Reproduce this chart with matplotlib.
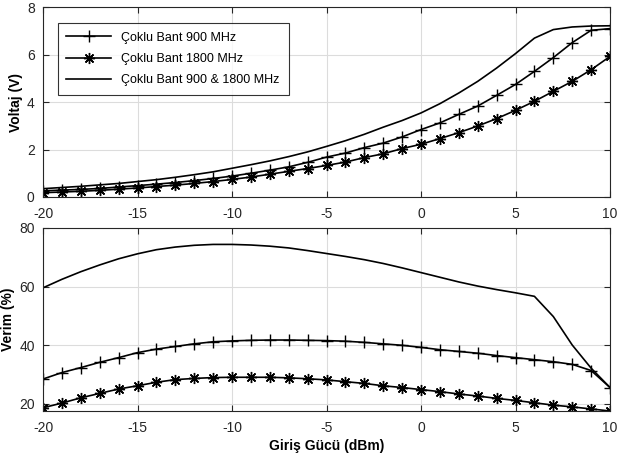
import matplotlib
matplotlib.use("Agg")
from matplotlib import pyplot as plt

plt.rcParams['font.family'] = ['Liberation Sans', 'DejaVu Sans']
plt.rcParams['axes.unicode_minus'] = False

# giriş gücü (dBm)
guc = list(range(-20, 11))

# voltaj (V)
v_900 = [0.26, 0.29, 0.32, 0.36, 0.42, 0.48, 0.54, 0.61, 0.69, 0.78, 0.88,
         1.00, 1.13, 1.27, 1.46, 1.68, 1.85, 2.08, 2.27, 2.53, 2.84,
         3.12, 3.48, 3.83, 4.28, 4.74, 5.29, 5.87, 6.50, 7.02, 7.09]
v_1800 = [0.18, 0.21, 0.24, 0.28, 0.33, 0.38, 0.44, 0.50, 0.57, 0.65, 0.74,
          0.84, 0.96, 1.08, 1.20, 1.33, 1.47, 1.66, 1.82, 2.04, 2.22,
          2.46, 2.71, 2.99, 3.30, 3.65, 4.03, 4.45, 4.87, 5.36, 5.92]
v_ikisi = [0.35, 0.40, 0.45, 0.51, 0.57, 0.65, 0.73, 0.83, 0.94, 1.06, 1.21,
           1.36, 1.52, 1.70, 1.90, 2.13, 2.37, 2.64, 2.94, 3.22, 3.54,
           3.93, 4.38, 4.87, 5.43, 6.04, 6.69, 7.05, 7.16, 7.20, 7.21]

# verim (%)
e_900 = [28.5, 30.7, 32.4, 34.2, 35.8, 37.5, 38.7, 39.6, 40.5, 41.2, 41.5,
         41.7, 41.8, 41.8, 41.7, 41.6, 41.4, 41.0, 40.5, 40.0, 39.3,
         38.5, 37.9, 37.3, 36.5, 35.8, 35.1, 34.4, 33.5, 31.4, 25.6]
e_1800 = [18.7, 20.3, 22.1, 23.6, 25.1, 26.2, 27.4, 28.3, 28.7, 29.0, 29.1,
          29.1, 29.1, 28.9, 28.6, 28.2, 27.6, 27.0, 26.2, 25.6, 24.9,
          24.2, 23.4, 22.7, 21.9, 21.2, 20.4, 19.6, 19.0, 18.3, 17.6]
e_ikisi = [59.6, 62.5, 65.1, 67.4, 69.5, 71.2, 72.6, 73.5, 74.1, 74.4, 74.4,
           74.2, 73.8, 73.2, 72.3, 71.3, 70.3, 69.2, 67.9, 66.4, 64.8,
           63.2, 61.6, 60.2, 59.0, 57.9, 56.7, 49.8, 40.1, 32.2, 25.6]

etiketler = ['Çoklu Bant 900 MHz', 'Çoklu Bant 1800 MHz', 'Çoklu Bant 900 & 1800 MHz']
asterisk = (8, 2, 0)

fig = plt.figure(figsize=(6.17, 4.62), dpi=100)
ax1 = fig.add_axes([0.0697, 0.5736, 0.919, 0.4112])
ax2 = fig.add_axes([0.0697, 0.1104, 0.919, 0.3961])

for ax, a, b, c in [(ax1, v_900, v_1800, v_ikisi), (ax2, e_900, e_1800, e_ikisi)]:
    ax.plot(guc, a, color='black', lw=1.2, marker='+', ms=9, mew=1.0, label=etiketler[0])
    ax.plot(guc, b, color='black', lw=1.2, marker=asterisk, ms=8, mew=1.0, label=etiketler[1])
    ax.plot(guc, c, color='black', lw=1.2, label=etiketler[2])
    ax.set_xlim(-20, 10)
    ax.set_xticks([-20, -15, -10, -5, 0, 5, 10])
    ax.grid(True, color='#dcdcdc', lw=0.8)
    ax.set_axisbelow(True)
    ax.tick_params(direction='in', top=True, right=True, labelsize=10,
                   colors='#262626', length=4)
    ax.tick_params(axis='x', pad=7)
    ax.tick_params(axis='y', pad=6)
    for s in ax.spines.values():
        s.set_color('#262626')
        s.set_linewidth(0.8)

ax1.set_ylim(0, 8)
ax1.set_yticks([0, 2, 4, 6, 8])
ax1.set_ylabel('Voltaj (V)', fontsize=10, fontweight='bold', labelpad=3)
leg = ax1.legend(loc='upper left', bbox_to_anchor=(0.026, 0.916), fontsize=9,
                 frameon=True, fancybox=False, edgecolor='black', borderaxespad=0,
                 handlelength=3.6, borderpad=0.7, labelspacing=0.75)
leg.get_frame().set_linewidth(0.8)

ax2.set_ylim(17.6, 80)
ax2.set_yticks([20, 40, 60, 80])
ax2.set_ylabel('Verim (%)', fontsize=10, fontweight='bold', labelpad=3)
ax2.set_xlabel('Giriş Gücü (dBm)', fontsize=10, fontweight='bold', labelpad=3)

fig.savefig('out.png', dpi=100)
